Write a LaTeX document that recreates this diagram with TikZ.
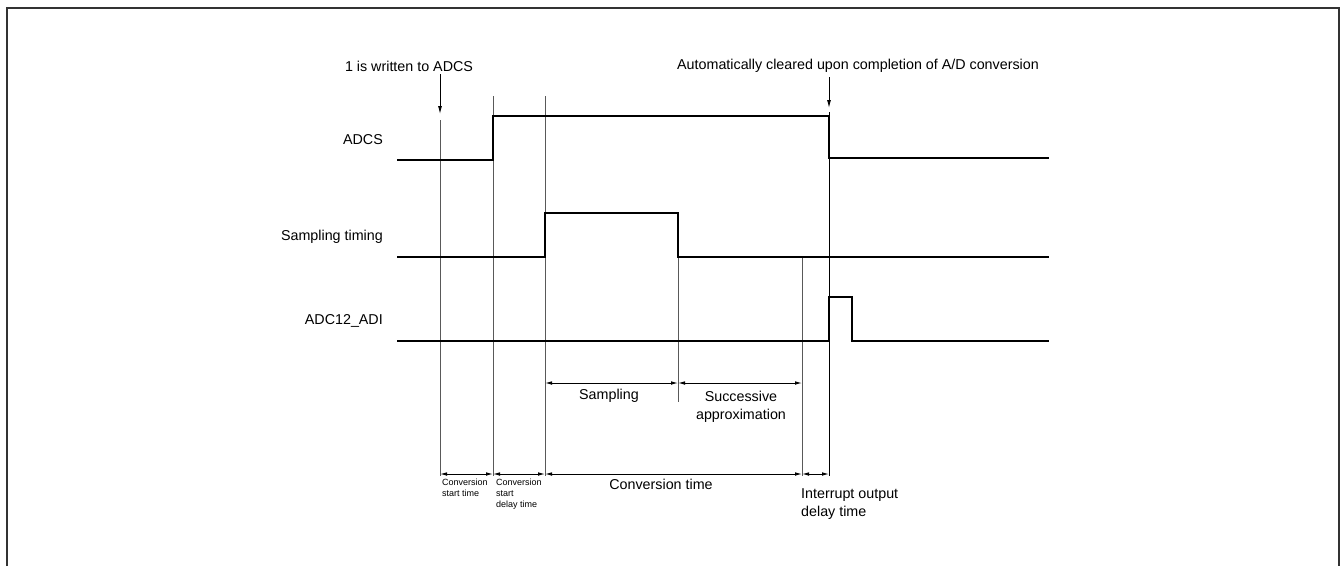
\documentclass[tikz,border=0pt]{standalone}
\usepackage{fontspec}
\setmainfont{Liberation Sans}
\usetikzlibrary{arrows.meta}
\begin{document}
\begin{tikzpicture}[x=1pt,y=-1pt,
  sig/.style={line width=1.8pt, line join=miter},
  guide/.style={draw=black!65, line width=1pt},
  dim/.style={line width=0.9pt, {Latex[length=7pt,width=3.6pt]}-{Latex[length=7pt,width=3.6pt]}},
  pointer/.style={line width=0.9pt, -{Latex[length=8pt,width=4pt]}},
  lbl/.style={font=\fontsize{14.3}{18}\selectfont, inner sep=0pt},
  smalllbl/.style={font=\fontsize{9}{11}\selectfont, inner sep=0pt, align=left, anchor=north west},
  frame/.style={draw=black!80, line width=1.6pt}
]
\useasboundingbox (0,0) rectangle (1341,566);
% frame
\coordinate (f1) at (7,566); \coordinate (f2) at (7,8);
\coordinate (f3) at (1339,8); \coordinate (f4) at (1339,566);
\draw[frame] (f1) -- (f2) -- (f3) -- (f4);

% guide lines
\coordinate (g1t) at (440,120); \coordinate (g1b) at (440,476);
\coordinate (g2t) at (493,96);  \coordinate (g2b) at (493,476);
\coordinate (g3t) at (545,96);  \coordinate (g3b) at (545,476);
\coordinate (g4t) at (678,258); \coordinate (g4b) at (678,402);
\coordinate (g5t) at (802,258); \coordinate (g5b) at (802,476);
\coordinate (g6t) at (829,112); \coordinate (g6b) at (829,476);
\draw[guide] (g1t) -- (g1b);
\draw[guide] (g2t) -- (g2b);
\draw[guide] (g3t) -- (g3b);
\draw[guide] (g4t) -- (g4b);
\draw[guide] (g5t) -- (g5b);
\draw[line width=1pt] (g6t) -- (g6b);

% signals
\coordinate (a0) at (397,160); \coordinate (a1) at (493,160);
\coordinate (a2) at (493,116); \coordinate (a3) at (829,116);
\coordinate (a4) at (829,158); \coordinate (a5) at (1049,158);
\draw[sig] (a0) -- (a1) -- (a2) -- (a3) -- (a4) -- (a5);

\coordinate (s0) at (397,257); \coordinate (s1) at (545,257);
\coordinate (s2) at (545,213); \coordinate (s3) at (678,213);
\coordinate (s4) at (678,257); \coordinate (s5) at (1049,257);
\draw[sig] (s0) -- (s1) -- (s2) -- (s3) -- (s4) -- (s5);

\coordinate (d0) at (397,341); \coordinate (d1) at (829,341);
\coordinate (d2) at (829,297); \coordinate (d3) at (852,297);
\coordinate (d4) at (852,341); \coordinate (d5) at (1049,341);
\draw[sig] (d0) -- (d1) -- (d2) -- (d3) -- (d4) -- (d5);

% signal labels
\node[lbl, anchor=east] (lADCS) at (383,140) {ADCS};
\node[lbl, anchor=east] (lST) at (383,237) {Sampling timing};
\node[lbl, anchor=east] (lADI) at (383,321) {ADC12\_ADI};

% top annotations
\node[lbl] (n1) at (409,66) {1 is written to ADCS};
\node[lbl] (n2) at (858,66) {Automatically cleared upon completion of A/D conversion};
\coordinate (p1a) at (440,74); \coordinate (p1b) at (440,114);
\coordinate (p2a) at (829,77); \coordinate (p2b) at (829,108);
\draw[pointer] (p1a) -- (p1b);
\draw[pointer] (p2a) -- (p2b);

% dimension row 1
\coordinate (r1a) at (545,383); \coordinate (r1b) at (678,383); \coordinate (r1c) at (802,383);
\draw[dim] (r1a) -- (r1b);
\draw[dim] (r1b) -- (r1c);
\node[lbl] (lsamp) at (609,396) {Sampling};
\node[lbl] (lsucc1) at (741,396) {Successive};
\node[lbl] (lsucc2) at (741,416) {approximation};

% dimension row 2
\coordinate (r2a) at (440,474); \coordinate (r2b) at (493,474); \coordinate (r2c) at (545,474);
\coordinate (r2d) at (802,474); \coordinate (r2e) at (829,474);
\draw[dim] (r2a) -- (r2b);
\draw[dim] (r2b) -- (r2c);
\draw[dim] (r2c) -- (r2d);
\draw[dim] (r2d) -- (r2e);
\node[smalllbl] (lcst) at (442,479) {Conversion\\start time};
\node[smalllbl] (lcsd) at (496,479) {Conversion\\start\\delay time};
\node[lbl] (lct) at (661,484) {Conversion time};
\node[lbl] (liod1) at (801,495) [anchor=west] {Interrupt output};
\node[lbl] (liod2) at (801,513) [anchor=west] {delay time};
\end{tikzpicture}
\end{document}
